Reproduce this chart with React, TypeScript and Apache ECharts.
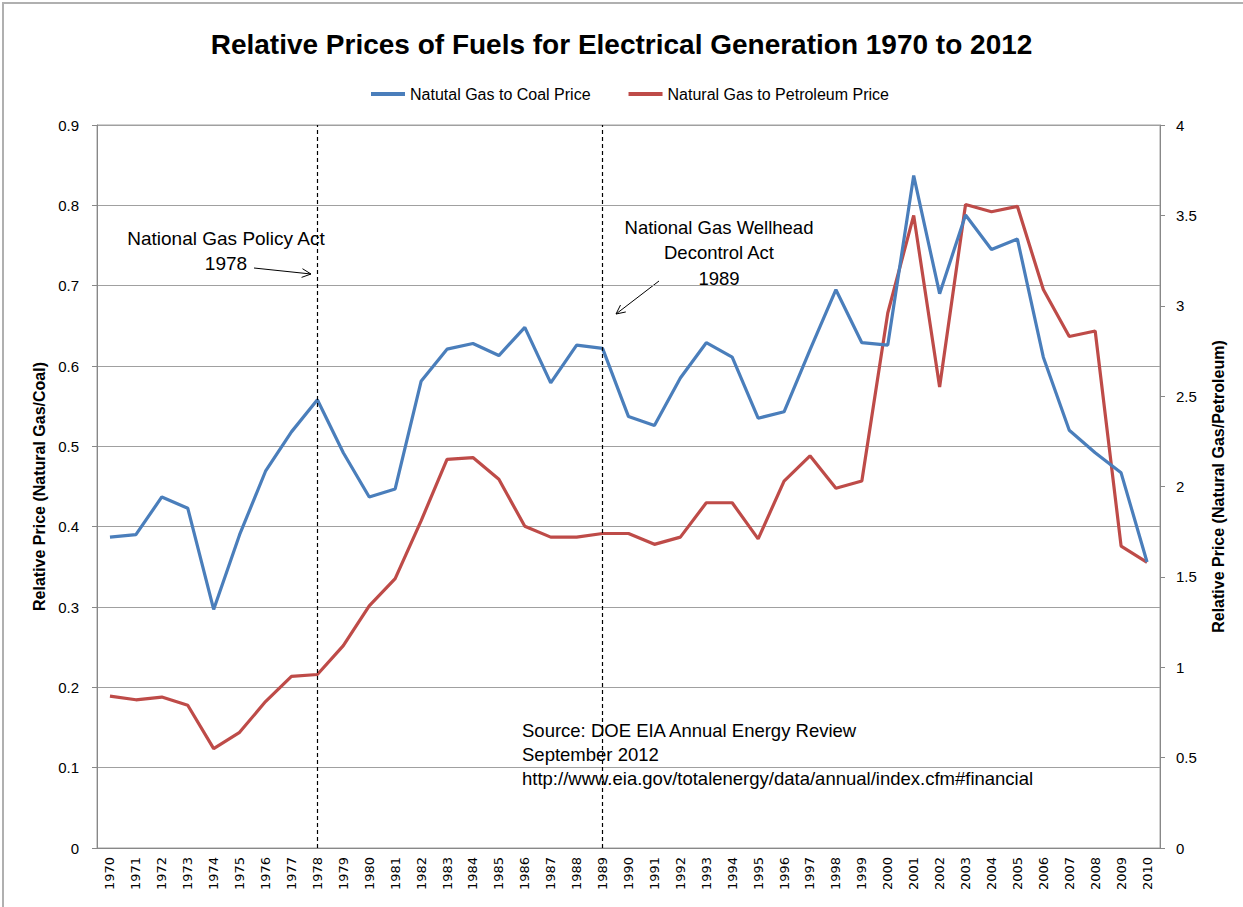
import React, { useEffect, useRef } from "react";
import * as echarts from "echarts";

const years = [
  "1970","1971","1972","1973","1974","1975","1976","1977","1978","1979",
  "1980","1981","1982","1983","1984","1985","1986","1987","1988","1989",
  "1990","1991","1992","1993","1994","1995","1996","1997","1998","1999",
  "2000","2001","2002","2003","2004","2005","2006","2007","2008","2009","2010",
];

const gasToCoal = [
  0.387, 0.39, 0.437, 0.423, 0.297, 0.39, 0.469, 0.518, 0.558, 0.492,
  0.437, 0.447, 0.581, 0.621, 0.628, 0.613, 0.648, 0.579, 0.626, 0.622,
  0.537, 0.526, 0.585, 0.629, 0.611, 0.535, 0.543, 0.62, 0.695, 0.629,
  0.626, 0.837, 0.69, 0.788, 0.745, 0.758, 0.611, 0.52, 0.492, 0.467, 0.356,
];

const gasToPetroleum = [
  0.84, 0.82, 0.835, 0.79, 0.55, 0.64, 0.81, 0.95, 0.96, 1.12,
  1.34, 1.49, 1.81, 2.15, 2.16, 2.04, 1.78, 1.72, 1.72, 1.74,
  1.74, 1.68, 1.72, 1.91, 1.91, 1.71, 2.03, 2.17, 1.99, 2.03,
  2.96, 3.5, 2.55, 3.56, 3.52, 3.55, 3.09, 2.83, 2.86, 1.67, 1.58,
];

const eventYears = ["1978", "1989"];
const seriesNames = ["Natutal Gas to Coal Price", "Natural Gas to Petroleum Price"];
const titleText = "Relative Prices of Fuels for Electrical Generation 1970 to 2012";
const leftAxisName = "Relative Price (Natural Gas/Coal)";
const rightAxisName = "Relative Price (Natural Gas/Petroleum)";
const note1978 = ["National Gas Policy Act", "1978"];
const note1989 = ["National Gas Wellhead", "Decontrol Act", "1989"];
const sourceLines = [
  "Source: DOE EIA Annual Energy Review",
  "September 2012",
  "http://www.eia.gov/totalenergy/data/annual/index.cfm#financial",
];

const BLUE = "#4a7ebb";
const RED = "#be4b48";
const GRID = "#a0a0a0";
const FONT = "'Liberation Sans', Arial, sans-serif";

function arrow(x1: number, y1: number, x2: number, y2: number) {
  const a = Math.atan2(y2 - y1, x2 - x1);
  const L = 10;
  const t = 0.45;
  const p1 = [x2 - L * Math.cos(a - t), y2 - L * Math.sin(a - t)];
  const p2 = [x2 - L * Math.cos(a + t), y2 - L * Math.sin(a + t)];
  return [
    { type: "line", shape: { x1, y1, x2, y2 }, style: { stroke: "#000", lineWidth: 1 } },
    { type: "polyline", shape: { points: [p1, [x2, y2], p2] }, style: { stroke: "#000", lineWidth: 1, fill: null } },
  ];
}

function textLines(lines: string[], x: number, y0: number, dy: number, align: string, size: number) {
  return lines.map((t, i) => ({
    type: "text",
    x,
    y: y0 + i * dy,
    style: { text: t, fill: "#000", font: `${size}px ${FONT}`, textAlign: align, textVerticalAlign: "middle" },
  }));
}

export default function App() {
  const ref = useRef<HTMLDivElement>(null);
  useEffect(() => {
    if (!ref.current) return;
    const chart = echarts.init(ref.current, null, { renderer: "svg" });
    const fmt = (v: number) => String(Math.round(v * 10) / 10);
    chart.setOption({
      animation: false,
      backgroundColor: "#fff",
      title: {
        text: titleText,
        left: "center",
        top: 25,
        textStyle: { fontFamily: FONT, fontWeight: "bold", fontSize: 28, color: "#000" },
      },
      legend: {
        data: seriesNames,
        left: 366,
        top: 81,
        icon: "rect",
        itemWidth: 34,
        itemHeight: 4,
        itemGap: 38,
        textStyle: { fontFamily: FONT, fontSize: 16, color: "#000" },
      },
      grid: {
        left: 97,
        right: 83,
        top: 125,
        bottom: 59,
        show: true,
        borderColor: GRID,
        borderWidth: 1,
      },
      xAxis: {
        type: "category",
        data: years,
        boundaryGap: true,
        axisLine: { lineStyle: { color: "#888" } },
        axisTick: { show: false },
        axisLabel: {
          rotate: 90,
          interval: 0,
          margin: 9,
          color: "#000",
          fontFamily: "'DejaVu Sans', Verdana, sans-serif",
          fontSize: 13,
        },
      },
      yAxis: [
        {
          type: "value",
          min: 0,
          max: 0.9,
          interval: 0.1,
          position: "left",
          name: leftAxisName,
          nameLocation: "middle",
          nameRotate: 90,
          nameGap: 49,
          nameTextStyle: { fontFamily: FONT, fontWeight: "bold", fontSize: 16, color: "#000" },
          axisLine: { show: true, lineStyle: { color: "#888" } },
          axisTick: { show: true, length: 5, lineStyle: { color: "#888" } },
          axisLabel: { color: "#000", fontFamily: FONT, fontSize: 15, margin: 18, formatter: fmt },
          splitLine: { show: true, lineStyle: { color: GRID, width: 1 } },
        },
        {
          type: "value",
          min: 0,
          max: 4,
          interval: 0.5,
          position: "right",
          name: rightAxisName,
          nameLocation: "middle",
          nameRotate: 90,
          nameGap: 50,
          nameTextStyle: { fontFamily: FONT, fontWeight: "bold", fontSize: 16, color: "#000" },
          axisLine: { show: true, lineStyle: { color: "#888" } },
          axisTick: { show: true, length: 5, lineStyle: { color: "#888" } },
          axisLabel: { color: "#000", fontFamily: FONT, fontSize: 15, margin: 16, formatter: fmt },
          splitLine: { show: false },
        },
      ],
      series: [
        {
          name: seriesNames[0],
          type: "line",
          yAxisIndex: 0,
          data: gasToCoal,
          showSymbol: false,
          symbol: "none",
          lineStyle: { color: BLUE, width: 3.2 },
          itemStyle: { color: BLUE },
          markLine: {
            silent: true,
            symbol: "none",
            label: { show: false },
            lineStyle: { color: "#000", type: [4, 3], width: 1.2 },
            data: eventYears.map((y) => ({ xAxis: y })),
          },
          z: 3,
        },
        {
          name: seriesNames[1],
          type: "line",
          yAxisIndex: 1,
          data: gasToPetroleum,
          showSymbol: false,
          symbol: "none",
          lineStyle: { color: RED, width: 3.2 },
          itemStyle: { color: RED },
          z: 2,
        },
      ],
      graphic: [
        {
          type: "rect",
          shape: { x: 3, y: 3, width: 1260, height: 920 },
          style: { fill: null, stroke: "#b0b0b0", lineWidth: 2 },
          silent: true,
        },
        ...textLines(note1978, 226, 238, 25, "center", 19),
        ...arrow(254, 268, 311, 274),
        ...textLines(note1989, 719, 227, 25.5, "center", 18.5),
        ...arrow(659, 281, 616, 314),
        ...textLines(sourceLines, 522, 730, 24, "left", 18.5),
      ],
    });
    return () => chart.dispose();
  }, []);
  return <div ref={ref} style={{ position: "fixed", left: 0, top: 0, width: 1243, height: 907 }} />;
}
